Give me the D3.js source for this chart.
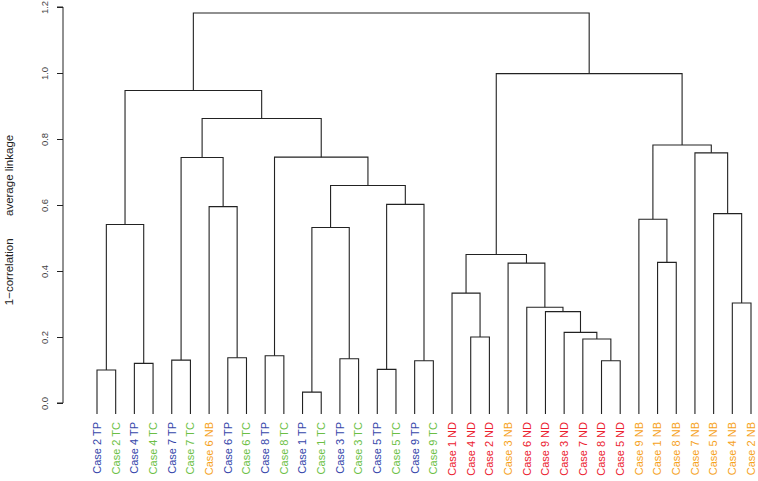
<!DOCTYPE html>
<html><head><meta charset="utf-8">
<script src="https://cdn.jsdelivr.net/npm/d3@7"></script>
<style>body{margin:0;background:#fff}</style>
</head><body>
<svg id="chart" width="758" height="481"></svg>
<script>
// Leaf labels in dendrogram order
const leafLabels = ["Case 2 TP","Case 2 TC","Case 4 TP","Case 4 TC","Case 7 TP","Case 7 TC","Case 6 NB","Case 6 TP","Case 6 TC","Case 8 TP","Case 8 TC","Case 1 TP","Case 1 TC","Case 3 TP","Case 3 TC","Case 5 TP","Case 5 TC","Case 9 TP","Case 9 TC","Case 1 ND","Case 4 ND","Case 2 ND","Case 3 NB","Case 6 ND","Case 9 ND","Case 3 ND","Case 7 ND","Case 8 ND","Case 5 ND","Case 9 NB","Case 1 NB","Case 8 NB","Case 7 NB","Case 5 NB","Case 4 NB","Case 2 NB"];
// Merge matrix (R hclust style): negative = leaf (1-based), positive = earlier merge (1-based)
const mergeA = [-1,-3,-5,-8,-10,-12,-14,-16,-18, 1,-7, 6, 8,12, 5, 3,16,10,-21,-20,-28,-27,-26,-25,-24,-23,20,-31,-30,-35,-34,-33,29,27,18];
const mergeB = [-2,-4,-6,-9,-11,-13,-15,-17,-19, 2, 4, 7, 9,13,14,11,15,17,-22, 19,-29, 21, 22, 23, 24, 25,26,-32, 28,-36, 30, 31,32,33,34];
const mergeHeight = [0.100,0.120,0.130,0.137,0.143,0.033,0.134,0.102,0.128,0.541,0.595,0.532,0.602,0.659,0.745,0.744,0.862,0.947,0.200,0.333,0.128,0.194,0.214,0.277,0.290,0.424,0.450,0.426,0.557,0.303,0.574,0.758,0.782,0.998,1.182];
const yTicks = [0.0,0.2,0.4,0.6,0.8,1.0,1.2];
const groupColors = {TP:"#3446aa", TC:"#6cbf45", NB:"#f6a21c", ND:"#ec2230"};
const yLabel = "1\u2212correlation       average linkage";
const leafBottom = -0.033;

const svg = d3.select("#chart");
const x = d3.scaleLinear().domain([0, leafLabels.length-1]).range([97, 751]);
const y = d3.scaleLinear().domain([0, 1.2]).range([403, 7]);

// compute node positions
const nodes = [];
function pos(ref){
  if(ref < 0) return {x: x(-ref-1), h: leafBottom};
  return nodes[ref-1];
}
const g = svg.append("g").attr("stroke","#222").attr("stroke-width",1.1).attr("fill","none");
for(let i=0;i<mergeA.length;i++){
  const a = pos(mergeA[i]), b = pos(mergeB[i]);
  const h = mergeHeight[i];
  const node = {x:(a.x+b.x)/2, h:h};
  nodes.push(node);
  g.append("path").attr("d",
    `M${a.x},${y(a.h)}V${y(h)}H${b.x}V${y(b.h)}`);
}

// axis
const axis = svg.append("g").attr("transform","translate(63,0)")
  .call(d3.axisLeft(y).tickValues(yTicks).tickSize(6).tickFormat(d3.format(".1f")));
axis.select(".domain").attr("stroke","#222").attr("d",`M-6,${y(0)}H0V${y(1.2)}H-6`);
axis.selectAll(".tick line").attr("stroke","#222");
axis.selectAll(".tick text")
  .attr("font-family","Liberation Sans, Arial, sans-serif").attr("font-size",9.5).attr("fill","#444")
  .attr("x",0).attr("y",0).attr("text-anchor","middle")
  .attr("transform","translate(-18,0) rotate(-90)").attr("dy","0.35em");

// y label
svg.append("text").attr("transform","translate(9,220) rotate(-90)")
  .attr("text-anchor","middle").attr("dy","0.35em")
  .attr("font-family","Liberation Sans, Arial, sans-serif").attr("font-size",11.5).attr("fill","#222")
  .style("white-space","pre").attr("xml:space","preserve")
  .text(yLabel);

// leaf labels
svg.append("g").selectAll("text").data(leafLabels).join("text")
  .attr("transform",(d,i)=>`translate(${x(i)},422) rotate(-90)`)
  .attr("text-anchor","end").attr("dy","0.35em")
  .attr("font-family","Liberation Sans, Arial, sans-serif").attr("font-size",11)
  .attr("fill",d=>groupColors[d.slice(-2)])
  .text(d=>d);
</script>
</body></html>
